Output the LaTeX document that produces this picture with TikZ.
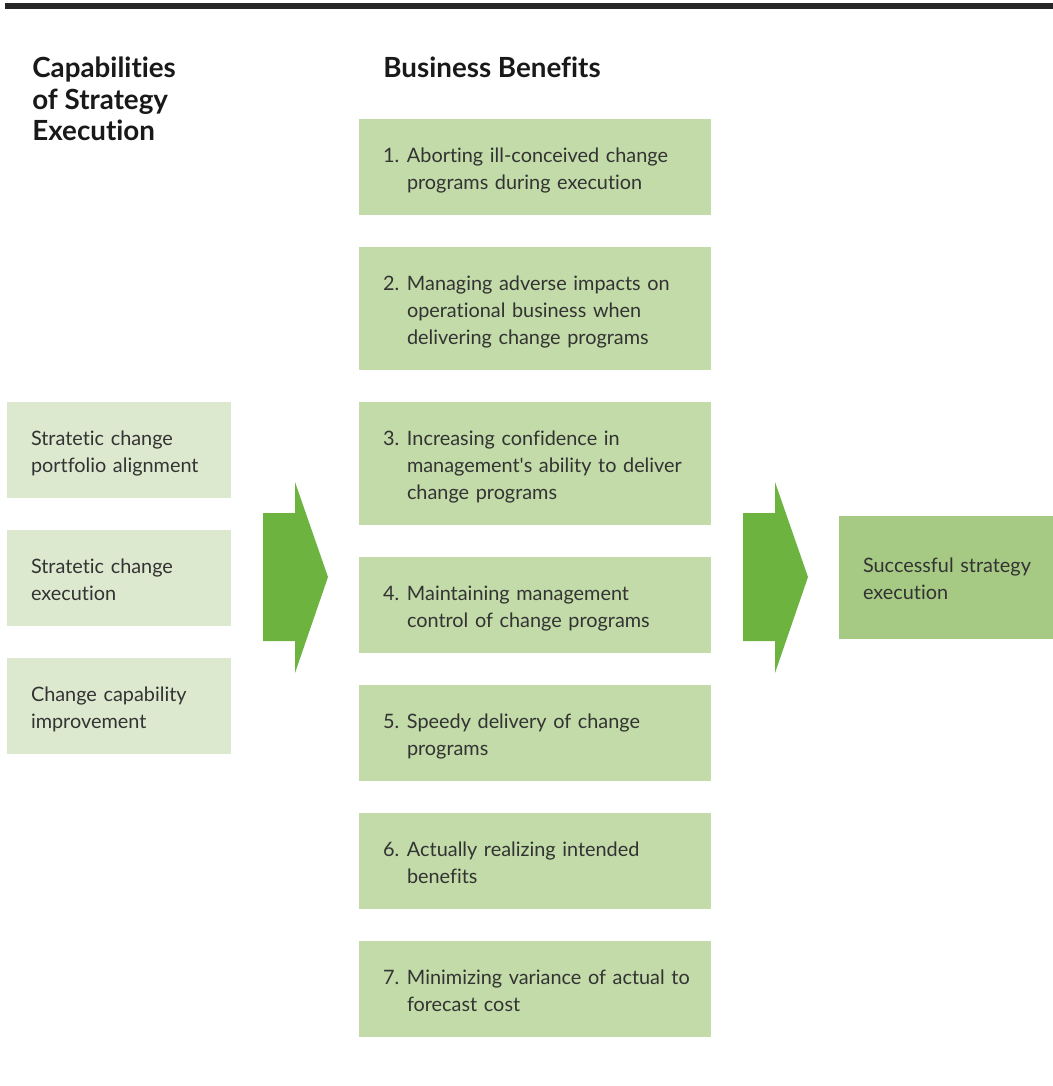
\documentclass[tikz,border=0pt]{standalone}
\usepackage{fontspec}
\setmainfont{Lato}[Ligatures=NoCommon]
\usetikzlibrary{positioning}
\definecolor{benefitgreen}{HTML}{C2DBA8}
\definecolor{capgreen}{HTML}{DDE9CF}
\definecolor{resultgreen}{HTML}{A6CA84}
\definecolor{arrowgreen}{HTML}{6DB33F}
\definecolor{textgray}{HTML}{333333}
% numbered text with hanging lines, never wrapped (set a bit low in the box)
\newcommand\blines[2]{\raisebox{-0.7mm}[\height][\depth]{%
  \begin{tabular}{@{}p{4.8mm}@{}l@{}}#1&#2\end{tabular}}}
\newcommand\plines[1]{\raisebox{-0.7mm}[\height][\depth]{%
  \begin{tabular}{@{}l@{}}#1\end{tabular}}}
\tikzset{
  boxtext/.style={text=textgray, align=left, inner ysep=0pt, inner xsep=4.8mm, outer sep=0pt,
    font=\fontsize{11.3}{15.4}\selectfont},
  benefit/.style={boxtext, fill=benefitgreen, text width=60.8mm, minimum height=19.2mm},
  tallbenefit/.style={benefit, minimum height=24.6mm},
  capab/.style={boxtext, fill=capgreen, text width=35.2mm, minimum height=19.2mm},
  result/.style={boxtext, fill=resultgreen, text width=33.2mm, minimum height=24.6mm},
  heading/.style={text=black!90, align=left, inner sep=0pt,
    font=\fontsize{15.8}{17.9}\selectfont\bfseries},
}
\begin{document}
\begin{tikzpicture}[x=0.2mm, y=-0.2mm]
\useasboundingbox (0,0) rectangle (1053,1086);
\fill[black!85] (5,3) rectangle (1053,9);

% headings
\node[heading, anchor=north west] (capHead) at (32,57) {Capabilities\\of Strategy\\Execution};
\node[heading, anchor=north west] (benHead) at (383,57) {Business Benefits};

% business benefits
\node[benefit, anchor=north west] (b1) at (359,119)
  {\blines{1.}{Aborting ill-conceived change\\&programs during execution}};
\node[tallbenefit, below=6.4mm of b1] (b2)
  {\blines{2.}{Managing adverse impacts on\\&operational business when\\&delivering change programs}};
\node[tallbenefit, below=6.4mm of b2] (b3)
  {\blines{3.}{Increasing confidence in\\&management\textquotesingle s ability to deliver\\&change programs}};
\node[benefit, below=6.4mm of b3] (b4)
  {\blines{4.}{Maintaining management\\&control of change programs}};
\node[benefit, below=6.4mm of b4] (b5)
  {\blines{5.}{Speedy delivery of change\\&programs}};
\node[benefit, below=6.4mm of b5] (b6)
  {\blines{6.}{Actually realizing intended\\&benefits}};
\node[benefit, below=6.4mm of b6] (b7)
  {\blines{7.}{Minimizing variance of actual to\\&forecast cost}};

% capabilities
\node[capab, anchor=north west] (c1) at (7,402) {\plines{Stratetic change\\portfolio alignment}};
\node[capab, below=6.4mm of c1] (c2) {\plines{Stratetic change\\execution}};
\node[capab, below=6.4mm of c2] (c3) {\plines{Change capability\\improvement}};

% result
\node[result, anchor=north west] (res) at (839,516) {\plines{Successful strategy\\execution}};

% block arrows
\foreach \ax in {263,743}
  \fill[arrowgreen] (\ax,513) -- ++(32,0) -- ++(0,-31) -- ++(33,95) -- ++(-33,96)
    -- ++(0,-32) -- ++(-32,0) -- cycle;
\end{tikzpicture}
\end{document}
